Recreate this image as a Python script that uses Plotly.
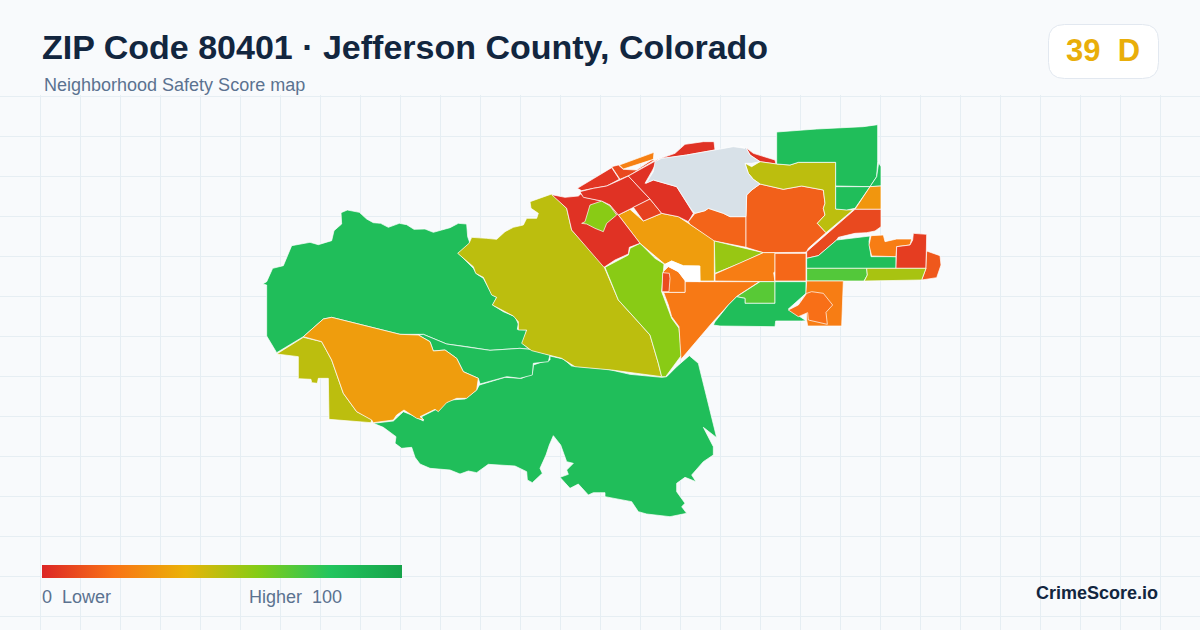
import plotly.graph_objects as go

# ---- readings from the reference ----
def crop(ox, oy):
    return lambda pts: [(ox + a / 3, oy + b / 3) for a, b in pts]
z1, z2, z3, z4 = crop(540, 120), crop(740, 120), crop(600, 230), crop(740, 225)
z5, z6, z10 = crop(260, 200), crop(370, 340), crop(455, 190)

south_green = z6([(540,48),(580,57),(605,78),(710,87),(780,103),(875,112),(890,110),(920,80),(958,47),(985,70),(1040,293),(1000,262),(1030,320),(1030,345),(1000,365),(965,405),(978,425),(945,412),(920,430),(920,455),(945,490),(935,500),(950,520),(900,530),(830,522),(805,515),(785,485),(705,470),(705,458),(670,458),(655,465),(625,432),(600,445),(570,412),(595,403),(590,390),(610,370),(590,365),(572,315),(550,287),(538,315),(528,345),(510,385),(517,400),(487,428),(472,420),(470,395),(435,378),(355,373),(320,398),(295,393),(270,402),(240,390),(205,388),(180,385),(150,372),(135,352),(125,322),(95,325),(75,310),(78,290),(40,262),(10,250),(70,243),(100,215),(125,225),(160,243),(155,230),(205,205),(240,180),(285,177),(320,150),(328,135),(405,112),(455,115),(487,100),(490,75),(510,68),(540,60)])
nw_green = z5([(8,252),(20,245),(38,205),(70,197),(95,137),(150,127),(175,134),(215,122),(222,92),(245,72),(243,38),(262,30),(298,37),(320,57),(340,68),(362,70),(385,82),(418,70),(440,74),(462,88),(495,87),(520,97),(545,90),(570,83),(595,70),(620,72),(623,110),(630,130),(595,160),(640,205),(650,222),(670,235),(697,285),(710,292),(698,315),(730,335),(765,350),(775,372),(772,388),(800,390),(788,430),(810,450),(870,465),(810,448),(780,445),(690,451),(620,440),(560,432),(490,403),(420,403),(380,393),(215,352),(190,357),(130,410),(50,458),(40,440),(20,408),(20,255)])
mid_green = z5([(490,403),(560,432),(690,451),(780,445),(810,448),(870,465),(865,485),(820,490),(817,525),(780,535),(740,530),(660,552),(655,535),(610,515),(590,475),(555,450),(520,453),(510,425),(475,405)])
sw_olive = z5([(50,462),(130,412),(185,425),(215,480),(250,580),(290,635),(335,658),(333,668),(207,658),(205,535),(175,535),(172,550),(155,548),(153,538),(115,536),(115,470)])
sw_amber = z5([(130,410),(190,357),(215,352),(380,393),(420,403),(475,405),(510,425),(520,453),(555,450),(590,475),(610,515),(655,535),(650,570),(620,595),(590,595),(560,608),(535,635),(525,628),(500,640),(480,650),(492,660),(470,655),(432,630),(410,645),(400,660),(340,668),(335,660),(290,635),(250,580),(215,480),(185,425)])
big_olive = z10([(290,12),(225,35),(228,55),(250,70),(245,85),(215,85),(205,105),(175,112),(150,125),(125,148),(95,145),(50,142),(42,160),(8,190),(55,230),(62,250),(85,262),(110,315),(125,322),(112,345),(175,378),(190,395),(190,420),(215,420),(200,460),(230,482),(320,505),(360,530),(470,540),(620,560),(610,520),(585,435),(540,385),(490,330),(445,225),(350,120),(335,55)])
lime_strip = z10([(450,232),(490,210),(520,195),(525,175),(555,160),(600,205),(627,222),(620,305),(650,385),(672,415),(680,495),(632,560),(620,560),(610,520),(585,435),(540,385),(490,330)])
wedge_orange = z3([(190,185),(205,225),(215,260),(237,290),(243,388),(335,280),(385,225),(412,198),(478,155),(255,155),(255,187),(190,187)])
block_orange = z3([(190,125),(205,110),(235,125),(255,150),(255,187),(190,187)])
block_red = z3([(188,128),(208,130),(210,145),(207,185),(186,185)])
white_hole = z3([(195,103),(215,93),(250,107),(300,108),(300,155),(255,152),(235,125),(205,108)])
center_amber = z1([(235,285),(270,268),(310,303),(365,280),(415,290),(450,313),(525,362)]) + z3([(343,33),(343,153),(300,153),(298,108),(250,108),(215,93),(195,103),(120,40)])
left_red = z1([(35,224),(75,232),(115,228),(122,222),(135,232),(185,243),(210,255),(235,285)]) + z3([(120,40),(88,52),(85,72),(45,90),(12,112)]) + z10([(350,120),(335,55)])
lime_pocket = z1([(125,310),(135,305),(150,255),(185,243),(210,258),(230,285),(200,310),(190,335),(165,325),(140,312)])
nw_red = z1([(112,205),(215,143),(238,178),(200,198),(160,205),(125,212)])
ne_redorange = z1([(215,140),(235,135),(250,148),(290,150),(335,120),(345,120),(270,165),(240,178)])
sliver_orange = z1([(238,135),(342,97),(340,118),(300,130),(250,147)])
center_red = z1([(240,180),(265,168),(330,237),(280,262),(235,285),(210,255),(185,243),(130,232),(120,215),(160,205),(200,198)])
small_redorange = z1([(280,262),(330,237),(365,280),(310,303)])
right_red = z1([(265,168),(345,122),(355,118),(335,155),(315,190),(340,180),(410,200),(460,280),(445,305),(415,290),(365,280),(330,237)])
top_red = z1([(355,118),(375,110),(405,100),(435,73),(490,65),(522,65),(525,90),(440,105)])
top_red2 = z2([(18,83),(40,100),(105,120),(108,132),(60,125),(30,105)])
gray_area = z1([(318,190),(340,155),(345,125),(365,115),(440,105),(525,90),(580,80),(615,85)]) + z2([(0,80),(18,83),(30,105),(60,125),(35,130),(15,130),(25,160),(40,178),(60,192),(35,210),(20,225),(18,290)]) + z1([(570,290),(550,280),(505,265),(495,272),(465,280),(455,270),(410,200),(340,180)])
north_orange = z1([(445,305),(465,280),(495,272),(505,265),(550,280),(570,290),(618,290)]) + z3([(438,52),(343,33)]) + z1([(450,313)])
big_orange = z2([(18,290),(20,225),(35,210),(60,192),(130,208),(185,198),(250,210),(255,250),(250,265),(255,285),(232,310),(258,338),(205,385),(200,395)]) + z3([(615,67),(525,68),(490,68),(438,52)])
top_olive = z2([(15,130),(35,140),(60,125),(110,132),(150,135),(175,127),(287,127),(287,267),(335,270),(345,265),(258,338),(232,310),(255,285),(250,265),(255,250),(250,210),(185,198),(130,208),(60,192),(40,178),(25,160)])
top_green = z2([(110,36),(230,27),(370,20),(413,14),(413,125),(410,170),(390,200),(287,198),(287,127),(175,127),(150,135),(110,132)])
low_green = z2([(287,200),(390,200),(345,265),(320,270),(287,267)])
east_green = z2([(416,128),(423,140),(423,198),(390,200),(410,170)])
east_amber = z2([(390,200),(423,198),(423,268),(345,268)])
east_redorange = z2([(345,268),(423,268),(423,320),(405,333),(380,338),(345,340),(295,352)]) + z4([(290,45),(235,92),(200,100),(200,80)])
mid_right_green = z4([(200,100),(235,92),(290,45),(390,33),(387,50),(393,95),(468,95),(468,130),(200,130)])
cluster_orange = z4([(393,32),(430,30),(435,50),(470,42),(515,42),(510,60),(470,65),(468,95),(395,93),(387,60)])
east_red = z4([(470,65),(510,60),(518,45),(520,25),(560,28),(558,130),(468,130)])
far_east_orange = z4([(560,78),(600,92),(603,120),(590,158),(545,165),(558,130)])
band_lime = z4([(200,130),(380,130),(382,150),(372,168),(200,168)])
band_olive = z4([(380,130),(558,130),(545,165),(373,168),(382,150)])
lime_triangle = z3([(343,33),(490,68),(420,100),(345,130)])
block_amber_orange = z3([(345,132),(420,100),(490,68),(525,68),(525,125),(521,128),(525,155),(345,153)])
block_east_orange = z4([(105,85),(198,85),(198,168),(105,168)])
lime_block = z3([(480,155),(525,155),(525,220),(435,220),(435,205),(410,200)])
south_east_green = z3([(410,200),(435,205),(435,220),(525,220),(525,155),(618,155),(618,190),(565,237),(618,272),(605,273),(527,273),(525,290),(360,288),(340,285),(345,275),(385,225)])
se_orange = z4([(200,168),(310,168),(305,303),(203,303),(200,285),(198,200)])
se_inner_orange = z4([(145,255),(175,240),(200,205),(215,200),(250,205),(278,240),(258,262),(262,298),(205,285),(203,263),(175,275)])

region_names = ["south_green", "nw_green", "mid_green", "sw_olive", "sw_amber", "big_olive", "lime_strip",
                "wedge_orange", "block_orange", "block_red", "center_amber", "left_red", "lime_pocket",
                "nw_red", "ne_redorange", "sliver_orange", "center_red", "small_redorange", "right_red",
                "top_red", "top_red2", "north_orange", "big_orange", "top_olive", "top_green", "low_green",
                "east_green", "east_amber", "east_redorange", "mid_right_green", "cluster_orange", "east_red",
                "far_east_orange", "band_lime", "band_olive", "lime_triangle", "block_amber_orange",
                "block_east_orange", "lime_block", "south_east_green", "se_orange", "se_inner_orange"]
region_scores = [84, 84, 84, 49, 33, 49, 59,
                 22, 22, 10, 33, 3, 59,
                 4, 9, 24, 3, 7, 3,
                 3, 3, 16, 15, 49, 84, 84,
                 84, 31, 9, 84, 23, 6,
                 13, 70, 53, 56, 23,
                 17, 69, 84, 23, 19]
no_data_regions = ["gray_area"]
blank_regions = ["white_hole"]

title_text = "ZIP Code 80401 · Jefferson County, Colorado"
subtitle_text = "Neighborhood Safety Score map"
badge_text = "39  D"
brand_text = "CrimeScore.io"
legend_low = "0  Lower"
legend_high = "Higher  100"
stop_positions = [0, 0.2, 0.4, 0.6, 0.8, 1]
stop_colors = ["#dc2626", "#f97316", "#eab308", "#84cc16", "#22c55e", "#16a34a"]

# ---- figure ----
colorscale = [[p, c] for p, c in zip(stop_positions, stop_colors)]

def score_color(score):
    t = score / 100
    for i in range(len(stop_positions) - 1):
        a, b = stop_positions[i], stop_positions[i + 1]
        if a <= t <= b:
            f = (t - a) / (b - a)
            ca, cb = stop_colors[i], stop_colors[i + 1]
            rgb = [round(int(ca[k:k+2], 16) * (1 - f) + int(cb[k:k+2], 16) * f) for k in (1, 3, 5)]
            return f"rgb({rgb[0]},{rgb[1]},{rgb[2]})"
    return stop_colors[-1]

TOP = 95
def py(y):
    return (630 - y) / (630 - TOP)
def px(x):
    return x / 1200

fig = go.Figure()

def add_region(points, color):
    fig.add_trace(go.Scatter(
        x=[p[0] for p in points] + [points[0][0]],
        y=[p[1] for p in points] + [points[0][1]],
        mode="lines", fill="toself", fillcolor=color,
        line=dict(color="#ffffff", width=0.7), hoverinfo="skip", showlegend=False))

ns = globals()
for name, score in zip(region_names, region_scores):
    add_region(ns[name], score_color(score))
for name in no_data_regions:
    add_region(ns[name], "#d8e1e8")
for name in blank_regions:
    add_region(ns[name], "#ffffff")

# legend ramp: plotly's own colorbar
fig.add_trace(go.Scatter(
    x=[None, None], y=[None, None], mode="markers", hoverinfo="skip", showlegend=False,
    marker=dict(color=[0, 100], cmin=0, cmax=100, colorscale=colorscale, showscale=True,
                colorbar=dict(orientation="h", lenmode="pixels", len=360,
                              thicknessmode="pixels", thickness=13,
                              x=px(42), xanchor="left", y=py(565), yanchor="top",
                              xpad=0, ypad=0, outlinewidth=0, borderwidth=0,
                              showticklabels=False, ticks=""))))

FONT = "Liberation Sans, Arial, sans-serif"
def note(text, x, y, size, color, xanchor="left", bold=False):
    fig.add_annotation(text=f"<b>{text}</b>" if bold else text, xref="paper", yref="paper",
                       x=px(x), y=py(y), xanchor=xanchor, yanchor="middle", showarrow=False,
                       font=dict(family=FONT, size=size, color=color), borderpad=0, borderwidth=0)

note(title_text, 42, 47, 34, "#12263f", bold=True)
note(subtitle_text, 44, 85, 18, "#5b7290")
note(badge_text, 1103, 51, 31, "#e9ae0a", xanchor="center", bold=True)
note(legend_low, 42, 597, 18, "#5b7290")
note(legend_high, 342, 597, 18, "#5b7290", xanchor="right")
note(brand_text, 1158, 593, 18, "#12263f", xanchor="right", bold=True)

x0, x1, y0, y1, r = px(1048.5), px(1158.5), py(24.5), py(78.5), 16
rx, ry = r / 1200, r / (630 - TOP)
fig.add_shape(type="path", xref="paper", yref="paper", fillcolor="#ffffff",
              line=dict(color="#e2e8f0", width=1),
              path=f"M {x0+rx} {y0} L {x1-rx} {y0} Q {x1} {y0} {x1} {y0-ry} L {x1} {y1+ry} "
                   f"Q {x1} {y1} {x1-rx} {y1} L {x0+rx} {y1} Q {x0} {y1} {x0} {y1+ry} "
                   f"L {x0} {y0-ry} Q {x0} {y0} {x0+rx} {y0} Z")

axis = dict(showline=False, zeroline=False, showticklabels=False, ticks="",
            showgrid=True, gridcolor="#e6eef3", gridwidth=1)
fig.update_layout(
    width=1200, height=630, paper_bgcolor="#f8fafc", plot_bgcolor="#f8fafc",
    margin=dict(l=0, r=0, t=TOP, b=0, autoexpand=False),
    xaxis=dict(range=[0, 1200], tick0=0.5, dtick=40, **axis),
    yaxis=dict(range=[630, TOP], tick0=96.5, dtick=40, **axis),
    showlegend=False)

fig.write_html("out.html", config={"displayModeBar": False},
               post_script="document.body.style.margin='0';document.body.style.overflow='hidden';window.dispatchEvent(new Event('resize'));")
